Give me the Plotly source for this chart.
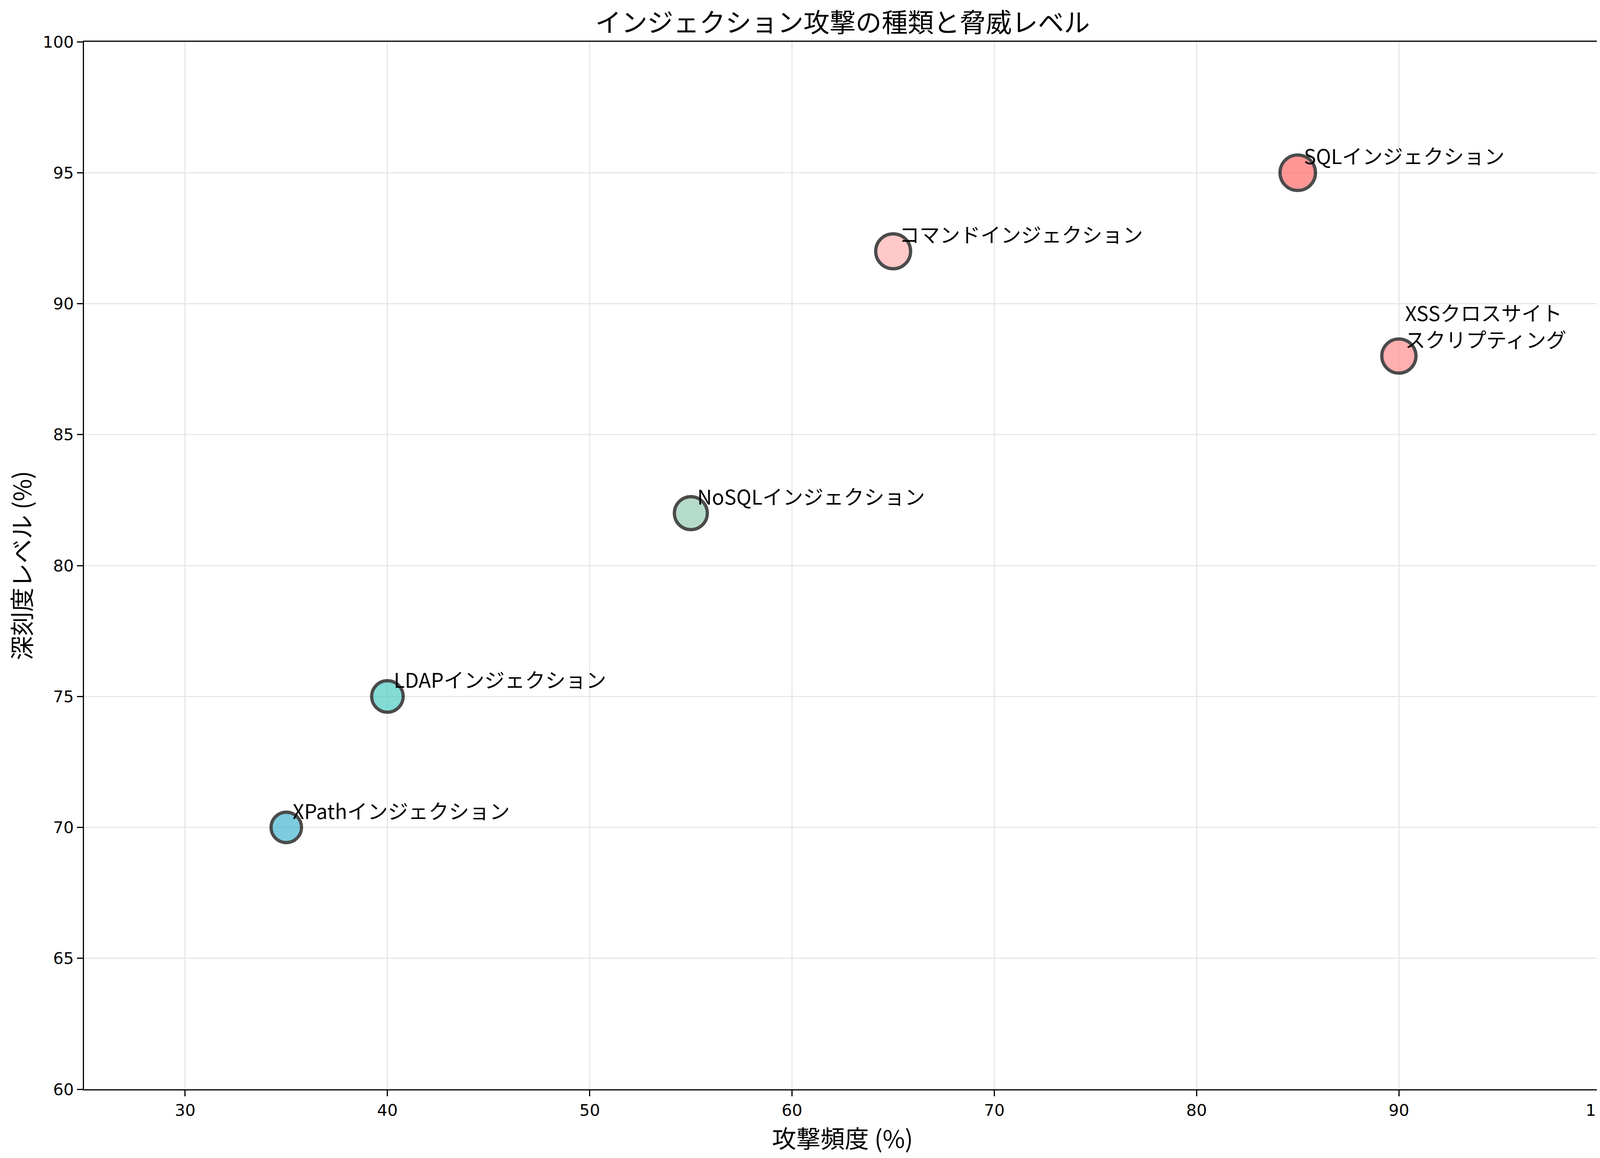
import plotly.graph_objects as go

# data
attack_names = [
    "SQLインジェクション",
    "XSSクロスサイト\nスクリプティング",
    "コマンドインジェクション",
    "NoSQLインジェクション",
    "LDAPインジェクション",
    "XPathインジェクション",
]
frequency = [85, 90, 65, 55, 40, 35]
severity = [95, 88, 92, 82, 75, 70]
colors = ["#FF6B6B", "#FF8E8E", "#FFB3B3", "#96CEB4", "#4ECDC4", "#45B7D1"]

x_ticks = [30, 40, 50, 60, 70, 80, 90, 100]
y_ticks = [60, 65, 70, 75, 80, 85, 90, 95, 100]

# page body has an 8px margin, so the figure is a bit smaller than the window
PAD = 8
W, H = 4169 - 2 * PAD, 2965 - 2 * PAD
PT = 300 / 72  # px per point in the reference
JP = "Noto Sans CJK JP"

fig = go.Figure()

fig.add_trace(go.Scatter(
    x=frequency,
    y=severity,
    mode="markers",
    marker=dict(
        size=severity,
        sizemode="area",
        sizeref=2 / (5 * PT * PT),
        color=colors,
        opacity=0.7,
        line=dict(color="black", width=2 * PT),
    ),
    hoverinfo="skip",
    showlegend=False,
))

for name, fx, sy in zip(attack_names, frequency, severity):
    fig.add_annotation(
        x=fx, y=sy, xref="x", yref="y",
        text=name.replace("\n", "<br>"),
        showarrow=False,
        xanchor="left", yanchor="bottom", align="left",
        xshift=14, yshift=5,
        font=dict(family=JP, size=52, color="black"),
    )

axis_common = dict(
    showline=True, mirror=True, linecolor="black", linewidth=0.8 * PT,
    ticks="outside", ticklen=3.5 * PT, tickwidth=0.8 * PT, tickcolor="black",
    showgrid=True, gridcolor="#E7E7E7", gridwidth=0.8 * PT,
    zeroline=False,
    tickfont=dict(family="DejaVu Sans", size=10 * PT, color="black"),
)

fig.update_xaxes(
    range=[25, 100], tickvals=x_ticks,
    title=dict(text="攻撃頻度 (%)", font=dict(family=JP, size=62, color="black"), standoff=16),
    **axis_common,
)
fig.update_yaxes(
    range=[60, 100], tickvals=y_ticks,
    title=dict(text="深刻度レベル (%)", font=dict(family=JP, size=62, color="black"), standoff=20),
    **axis_common,
)

fig.update_layout(
    width=W, height=H,
    margin=dict(l=215 - PAD, r=W - (4099 - PAD), t=107 - PAD, b=H - (2789 - PAD)),
    paper_bgcolor="white", plot_bgcolor="white",
    title=dict(
        text="インジェクション攻撃の種類と脅威レベル",
        font=dict(family=JP, size=16 * PT, color="black"),
        x=0.5, xref="paper", xanchor="center",
        y=1 - (59 - PAD) / H, yref="container", yanchor="middle",
    ),
)

fig.write_html("out.html")
